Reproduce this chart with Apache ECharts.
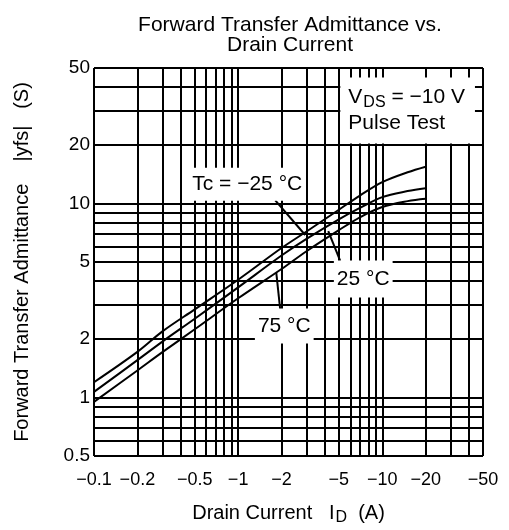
<!DOCTYPE html>
<html>
<head>
<meta charset="utf-8">
<script src="https://cdn.jsdelivr.net/npm/echarts@6/dist/echarts.min.js"></script>
<style>
  html, body { margin: 0; padding: 0; background: #fff; }
  #chart { width: 509px; height: 530px; }
</style>
</head>
<body>
<div id="chart"></div>
<script>
// Drain current I_D (A), p-channel device so values are negative
const drainCurrent = [-0.1, -0.2, -0.3, -0.5, -1, -2, -3, -5, -7, -10, -15, -20];
// Forward transfer admittance |yfs| (S) at three case temperatures
const yfsMinus25C = [1.2, 1.72, 2.2, 2.85, 4.05, 5.9, 7.2, 9.3, 11.0, 12.9, 14.5, 15.5];
const yfs25C      = [1.07, 1.56, 1.95, 2.55, 3.7, 5.4, 6.6, 8.3, 9.5, 10.8, 11.6, 12.0];
const yfs75C      = [0.95, 1.38, 1.72, 2.25, 3.25, 4.6, 5.7, 7.3, 8.5, 9.6, 10.3, 10.6];

// Labelled ticks
const xTickLabels = [-0.1, -0.2, -0.5, -1, -2, -5, -10, -20, -50];
const yTickLabels = [0.5, 1, 2, 5, 10, 20, 50];

// Log-paper grid lines
const xGridLines = [-0.1, -0.2, -0.3, -0.4, -0.5, -0.6, -0.7, -0.8, -0.9, -1,
                    -2, -3, -4, -5, -6, -7, -8, -9, -10, -20, -30, -40, -50];
const yGridLines = [0.5, 0.6, 0.7, 0.8, 0.9, 1, 2, 3, 4, 5, 6, 7, 8, 9, 10, 20, 30, 40, 50];

// Annotation anchors in data units: [|I_D|, |yfs|]
const noteTcMinus25 = [1.12, 12.6];
const note25 = [7.38, 4.09];
const note75 = [2.09, 2.34];
const noteConditions = [15.0, 30.2];

// Leader arrows: [from, to] in data units
const arrowMinus25 = [[1.81, 10.4], [2.92, 6.89]];
const arrow25 = [[5.11, 5.06], [4.22, 7.22]];
const arrow75 = [[1.96, 2.83], [1.84, 4.39]];

const FONT = '"Liberation Sans", Arial, Helvetica, sans-serif';
const mag = v => Math.abs(v);
const minusText = v => String(v).replace('-', '\u2212');

function curve(values) {
  return drainCurrent.map((x, i) => [mag(x), values[i]]);
}

const chart = echarts.init(document.getElementById('chart'), null, { renderer: 'canvas' });

const lineCurve = (name, values) => ({
  name,
  type: 'line',
  data: curve(values),
  symbol: 'none',
  smooth: 0.35,
  z: 3,
  lineStyle: { color: '#000', width: 2 },
  silent: true
});

const noteLabel = {
  show: true,
  position: 'inside',
  color: '#000',
  fontFamily: FONT,
  fontSize: 21,
  backgroundColor: '#fff'
};

const labelSeries = (name, z, data, label) => ({
  name,
  type: 'scatter',
  symbolSize: 0,
  z,
  silent: true,
  clip: false,
  itemStyle: { opacity: 1 },
  data,
  label
});

chart.setOption({
  animation: false,
  backgroundColor: '#fff',
  grid: { left: 94, right: 26, top: 68, bottom: 74, containLabel: false, outerBoundsMode: 'none' },
  xAxis: {
    type: 'log',
    logBase: 10,
    min: 0.1,
    max: 50,
    name: '{t|Drain Current   I}{s|D}{t|  (A)}',
    nameLocation: 'middle',
    nameGap: 46,
    nameTextStyle: {
      rich: {
        t: { fontFamily: FONT, fontSize: 20, color: '#000', lineHeight: 22 },
        s: { fontFamily: FONT, fontSize: 16, color: '#000', padding: [10, 0, 0, 1], lineHeight: 22 }
      }
    },
    axisLine: { show: false },
    axisTick: { show: false },
    axisLabel: { show: false },
    splitLine: { show: false }
  },
  yAxis: {
    type: 'log',
    logBase: 10,
    min: 0.5,
    max: 50,
    name: 'Forward Transfer Admittance    |yfs|   (S)',
    nameLocation: 'middle',
    nameGap: 62,
    nameRotate: 90,
    nameTextStyle: { fontFamily: FONT, fontSize: 20, color: '#000' },
    axisLine: { show: false },
    axisTick: { show: false },
    axisLabel: { show: false },
    splitLine: { show: false }
  },
  graphic: [{
    type: 'text',
    x: 290,
    y: 15,
    style: {
      text: 'Forward Transfer Admittance vs.\nDrain Current',
      textAlign: 'center',
      fill: '#000',
      font: '21px ' + FONT,
      lineHeight: 20
    }
  }],
  series: [
    {
      // grid of the log paper
      name: 'grid',
      type: 'line',
      data: [],
      z: 1,
      silent: true,
      clip: false,
      markLine: {
        silent: true,
        symbol: 'none',
        animation: false,
        label: { show: false },
        lineStyle: { color: '#000', width: 2, type: 'solid' },
        data: xGridLines.map(v => ({ xAxis: mag(v) }))
          .concat(yGridLines.map(v => ({ yAxis: v })))
      }
    },
    lineCurve('Tc = -25 °C', yfsMinus25C),
    lineCurve('Tc = 25 °C', yfs25C),
    lineCurve('Tc = 75 °C', yfs75C),
    {
      // leader arrows from the temperature notes to their curves
      name: 'arrows',
      type: 'line',
      data: [],
      z: 4,
      silent: true,
      clip: false,
      markLine: {
        silent: true,
        symbol: ['none', 'arrow'],
        symbolSize: [0, 9],
        animation: false,
        label: { show: false },
        lineStyle: { color: '#000', width: 2, type: 'solid' },
        data: [arrowMinus25, arrow25, arrow75].map(a => [{ coord: a[0] }, { coord: a[1] }])
      }
    },
    labelSeries('x tick labels', 6,
      xTickLabels.map(v => ({ value: [mag(v), 0.5], text: minusText(v) })),
      {
        show: true,
        position: 'bottom',
        distance: 15,
        color: '#000',
        fontFamily: FONT,
        fontSize: 18,
        formatter: p => p.data.text
      }),
    labelSeries('y tick labels', 6,
      yTickLabels.map(v => ({ value: [0.1, v], text: String(v) })),
      {
        show: true,
        position: 'left',
        distance: 4,
        color: '#000',
        fontFamily: FONT,
        fontSize: 19,
        formatter: p => p.data.text
      }),
    labelSeries('notes', 8, [
        { value: noteTcMinus25, label: { ...noteLabel, formatter: 'Tc = \u221225 °C', padding: [6, 2, 6, 6] } },
        { value: note25, label: { ...noteLabel, formatter: '25 °C', padding: [8, 3, 8, 3] } },
        { value: note75, label: { ...noteLabel, formatter: '75 °C', padding: [7, 3, 7, 3] } },
        {
          value: noteConditions,
          label: {
            ...noteLabel,
            padding: [7, 10, 7, 8],
            formatter: '{a|V}{s|DS}{a| = \u221210 V}\n{b|Pulse Test}',
            rich: {
              a: { fontFamily: FONT, fontSize: 21, color: '#000', lineHeight: 26 },
              s: { fontFamily: FONT, fontSize: 16, color: '#000', lineHeight: 26, padding: [10, 0, 0, 1] },
              b: { fontFamily: FONT, fontSize: 21, color: '#000', lineHeight: 26, align: 'left' }
            }
          }
        }
      ], { show: true })
  ]
});
</script>
</body>
</html>
